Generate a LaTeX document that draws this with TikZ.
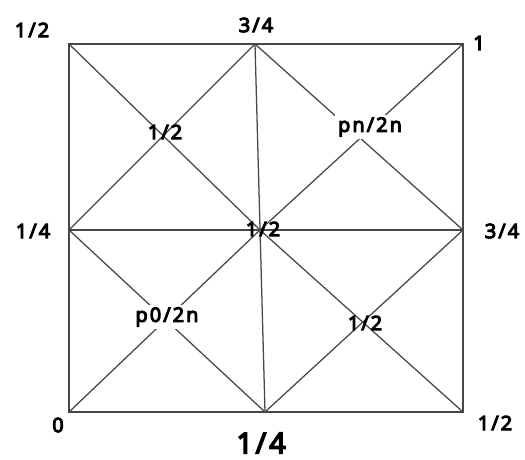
\documentclass[tikz,border=0pt]{standalone}
\usepackage{fontspec}
\newfontfamily\labfont[LetterSpace=10,FakeBold=5]{Noto Sans}
\usetikzlibrary{positioning}

\begin{document}
\begin{tikzpicture}[x=0.75pt,y=-0.75pt,
  edge/.style ={draw=black!72,line width=0.95pt},
  val/.style  ={font=\labfont\fontsize{15}{18}\selectfont,inner sep=1pt},
  bigval/.style={font=\labfont\fontsize{21.5}{26}\selectfont,inner sep=1pt},
  mask/.style ={val,fill=white,inner sep=2pt},
]
\useasboundingbox (0,0) rectangle (525,460);
% vertices of the grid
\coordinate (tl) at (69,44);
\coordinate (tm) at (255,44);
\coordinate (tr) at (463,44);
\coordinate (ml) at (69,230);
\coordinate (c)  at (260,230);
\coordinate (mr) at (463,230);
\coordinate (bl) at (69,412);
\coordinate (bm) at (265,412);
\coordinate (br) at (463,412);

\draw[edge] (tl)--(tr)--(br)--(bl)--cycle;
\draw[edge] (tm)--(bm);
\draw[edge] (ml)--(mr);
\draw[edge] (tl)--(c)--(br);
\draw[edge] (tr)--(c)--(bl);
\draw[edge] (tm)--(ml)--(bm)--(mr)--cycle;

% corner and edge values
\node[val]    (vtl) at (32,30)   {1/2};
\node[val]    (vtm) at (256,25)  {3/4};
\node[val]    (vtr) at (479,43)  {1};
\node[val]    (vml) at (33,231)  {1/4};
\node[val]    (vc)  at (263,229) {1/2};
\node[val]    (vmr) at (502,231) {3/4};
\node[val]    (vbl) at (58,425)  {0};
\node[bigval] (vbm) at (261,443) {1/4};
\node[val]    (vbr) at (495,423) {1/2};

% values inside the quadrants
\node[val]  (qtl) at (165,132) {1/2};
\node[mask] (qtr) at (370,127) {pn/2n};
\node[mask] (qbl) at (167,317) {p0/2n};
\node[val]  (qbr) at (365,323) {1/2};
\end{tikzpicture}
\end{document}
